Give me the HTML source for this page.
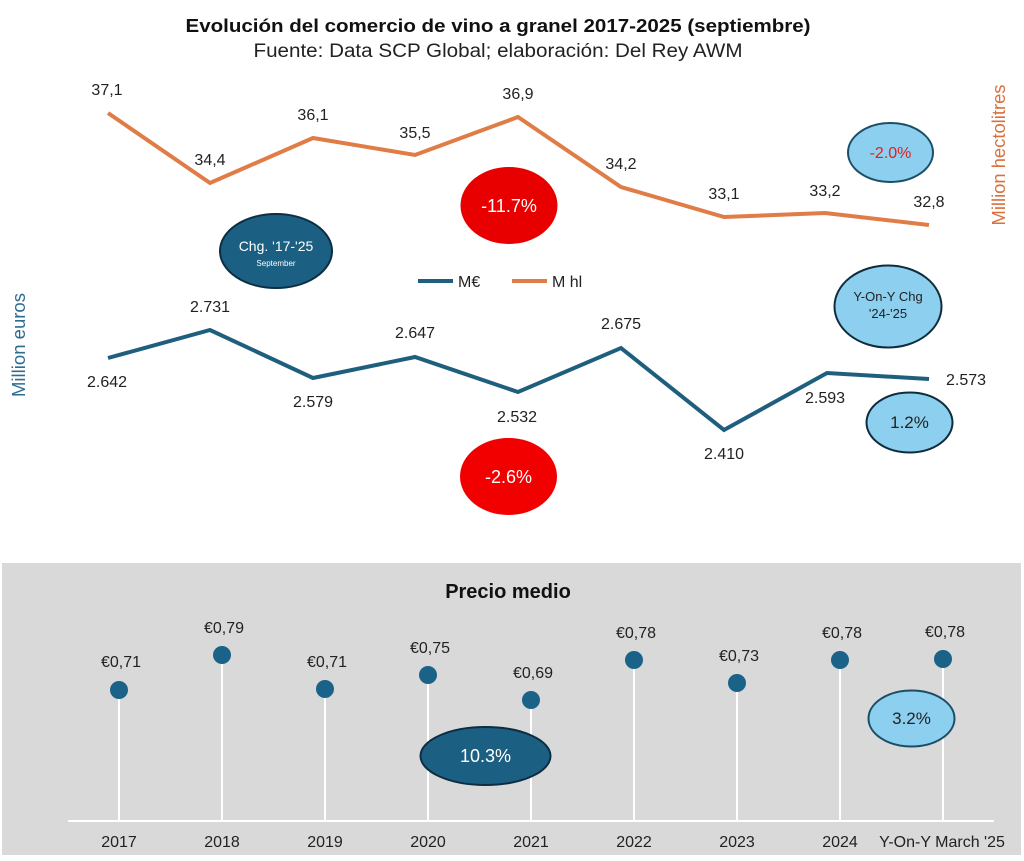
<!DOCTYPE html>
<html><head><meta charset="utf-8"><style>
html,body{margin:0;padding:0;background:#fff;}
svg{display:block;}
text{font-family:"Liberation Sans","DejaVu Sans",sans-serif;}
</style></head><body>
<svg width="1024" height="861" viewBox="0 0 1024 861" xmlns="http://www.w3.org/2000/svg">
<rect width="1024" height="861" fill="#fff"/>
<!-- Titles -->
<text x="498" y="32" text-anchor="middle" font-size="18" font-weight="bold" fill="#111" textLength="625" lengthAdjust="spacingAndGlyphs">Evolución del comercio de vino a granel 2017-2025 (septiembre)</text>
<text x="498" y="57" text-anchor="middle" font-size="19" fill="#222" textLength="489" lengthAdjust="spacingAndGlyphs">Fuente: Data SCP Global; elaboración: Del Rey AWM</text>

<!-- Axis titles -->
<text transform="translate(1005,155) rotate(-90)" text-anchor="middle" font-size="18" fill="#d9703d" textLength="141" lengthAdjust="spacingAndGlyphs">Million hectolitres</text>
<text transform="translate(25,345) rotate(-90)" text-anchor="middle" font-size="18" fill="#2e6d8e" textLength="104" lengthAdjust="spacingAndGlyphs">Million euros</text>

<!-- Orange line -->
<polyline fill="none" stroke="#e07c45" stroke-width="4" stroke-linejoin="miter" points="108,113 210,183 313,138 415,155 518,117 621,187 724,217 825,213 929,225"/>
<g font-size="16" fill="#222" text-anchor="middle">
<text x="107" y="95">37,1</text>
<text x="210" y="165">34,4</text>
<text x="313" y="120">36,1</text>
<text x="415" y="138">35,5</text>
<text x="518" y="99">36,9</text>
<text x="621" y="169">34,2</text>
<text x="724" y="199">33,1</text>
<text x="825" y="196">33,2</text>
<text x="929" y="207">32,8</text>
</g>

<!-- Blue line -->
<polyline fill="none" stroke="#1f5f7e" stroke-width="4" stroke-linejoin="miter" points="108,358 210,330 313,378 415,357 518,392 621,348 724,430 827,373 929,379"/>
<g font-size="16" fill="#222" text-anchor="middle">
<text x="107" y="387">2.642</text>
<text x="210" y="312">2.731</text>
<text x="313" y="407">2.579</text>
<text x="415" y="338">2.647</text>
<text x="517" y="422">2.532</text>
<text x="621" y="329">2.675</text>
<text x="724" y="459">2.410</text>
<text x="825" y="403">2.593</text>
<text x="966" y="385">2.573</text>
</g>

<!-- Legend -->
<line x1="418" y1="281" x2="453" y2="281" stroke="#1f5f7e" stroke-width="4"/>
<text x="458" y="287" font-size="16" fill="#222">M€</text>
<line x1="512" y1="281" x2="547" y2="281" stroke="#e07c45" stroke-width="4"/>
<text x="552" y="287" font-size="16" fill="#222">M hl</text>

<!-- Ellipses top -->
<ellipse cx="509" cy="205.5" rx="48.5" ry="38.5" fill="#e80000"/>
<text x="509" y="212" text-anchor="middle" font-size="18" fill="#fff">-11.7%</text>

<ellipse cx="276" cy="251" rx="56" ry="37" fill="#1b5f82" stroke="#0d2e42" stroke-width="2"/>
<text x="276" y="251" text-anchor="middle" font-size="14" fill="#fff">Chg. '17-'25</text>
<text x="276" y="266" text-anchor="middle" font-size="8" fill="#fff">September</text>

<ellipse cx="890.5" cy="152.5" rx="42.5" ry="29.5" fill="#8ccfee" stroke="#1b4e66" stroke-width="2"/>
<text x="890.5" y="158" text-anchor="middle" font-size="16" fill="#e02020">-2.0%</text>

<ellipse cx="888" cy="306.5" rx="53.5" ry="41" fill="#8ccfee" stroke="#0f2c3c" stroke-width="2"/>
<text x="888" y="301" text-anchor="middle" font-size="13" fill="#222">Y-On-Y Chg</text>
<text x="888" y="318" text-anchor="middle" font-size="13" fill="#222">'24-'25</text>

<ellipse cx="909.5" cy="422.5" rx="43" ry="30" fill="#8ccfee" stroke="#0f2c3c" stroke-width="2"/>
<text x="909.5" y="428" text-anchor="middle" font-size="17" fill="#222">1.2%</text>

<ellipse cx="508.5" cy="476.5" rx="48.5" ry="38.5" fill="#f20000"/>
<text x="508.5" y="483" text-anchor="middle" font-size="18" fill="#fff">-2.6%</text>

<!-- Bottom panel -->
<rect x="2" y="563" width="1019" height="292" fill="#d9d9d9"/>
<text x="508" y="598" text-anchor="middle" font-size="20" font-weight="bold" fill="#111">Precio medio</text>
<line x1="68" y1="821" x2="994" y2="821" stroke="#fff" stroke-width="2"/>
<g stroke="#fff" stroke-width="2">
<line x1="119" y1="690" x2="119" y2="821"/>
<line x1="222" y1="655" x2="222" y2="821"/>
<line x1="325" y1="689" x2="325" y2="821"/>
<line x1="428" y1="675" x2="428" y2="821"/>
<line x1="531" y1="700" x2="531" y2="821"/>
<line x1="634" y1="660" x2="634" y2="821"/>
<line x1="737" y1="683" x2="737" y2="821"/>
<line x1="840" y1="660" x2="840" y2="821"/>
<line x1="943" y1="659" x2="943" y2="821"/>
</g>
<g fill="#1a6287">
<circle cx="119" cy="690" r="9"/>
<circle cx="222" cy="655" r="9"/>
<circle cx="325" cy="689" r="9"/>
<circle cx="428" cy="675" r="9"/>
<circle cx="531" cy="700" r="9"/>
<circle cx="634" cy="660" r="9"/>
<circle cx="737" cy="683" r="9"/>
<circle cx="840" cy="660" r="9"/>
<circle cx="943" cy="659" r="9"/>
</g>
<g font-size="16" fill="#222" text-anchor="middle">
<text x="121" y="667">€0,71</text>
<text x="224" y="633">€0,79</text>
<text x="327" y="667">€0,71</text>
<text x="430" y="653">€0,75</text>
<text x="533" y="678">€0,69</text>
<text x="636" y="638">€0,78</text>
<text x="739" y="661">€0,73</text>
<text x="842" y="638">€0,78</text>
<text x="945" y="637">€0,78</text>
</g>
<g font-size="16" fill="#222" text-anchor="middle">
<text x="119" y="847">2017</text>
<text x="222" y="847">2018</text>
<text x="325" y="847">2019</text>
<text x="428" y="847">2020</text>
<text x="531" y="847">2021</text>
<text x="634" y="847">2022</text>
<text x="737" y="847">2023</text>
<text x="840" y="847">2024</text>
<text x="942" y="847">Y-On-Y March '25</text>
</g>

<ellipse cx="485.5" cy="756" rx="65" ry="29" fill="#1b5f82" stroke="#0d2e42" stroke-width="2"/>
<text x="485.5" y="762" text-anchor="middle" font-size="18" fill="#fff">10.3%</text>

<ellipse cx="911.5" cy="718.5" rx="43" ry="28" fill="#8ccfee" stroke="#1b4e66" stroke-width="2"/>
<text x="911.5" y="724" text-anchor="middle" font-size="17" fill="#222">3.2%</text>
</svg>
</body></html>
